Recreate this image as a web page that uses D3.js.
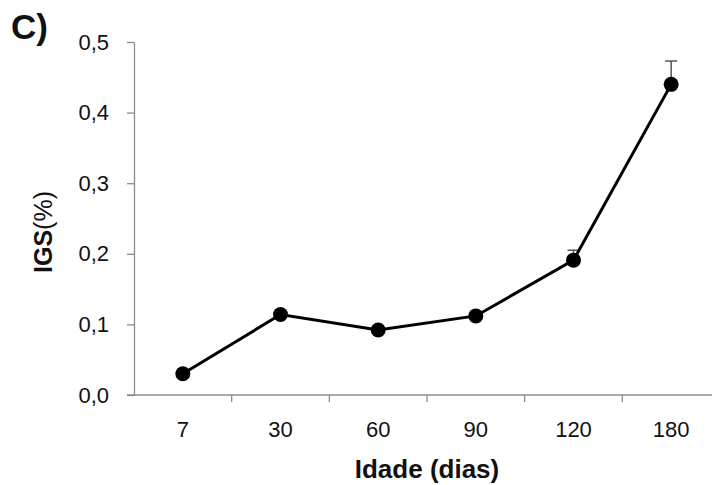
<!DOCTYPE html>
<html>
<head>
<meta charset="utf-8">
<script src="https://cdn.jsdelivr.net/npm/d3@7"></script>
<style>
  body { margin: 0; background: #fff; }
  svg { display: block; font-family: "Liberation Sans", Arial, sans-serif; }
  .tick text { font-size: 22px; fill: #111; }
</style>
</head>
<body>
<svg id="chart" width="712" height="485"></svg>
<script>
// data
const ages = ["7", "30", "60", "90", "120", "180"];
const igs = [0.030, 0.114, 0.092, 0.112, 0.191, 0.440];
const igsErr = [0, 0, 0, 0, 0.014, 0.033];
const yTicks = [0, 0.1, 0.2, 0.3, 0.4, 0.5];

// plot box: y axis at x=134, zero line at y=395, top (0,5) at y=42
const margins = { top: 42, left: 134 };
const innerWidth = 586;
const innerHeight = 353;

const chart = d3.select("#chart");

let xscale = d3.scaleBand(ages, [0, innerWidth]).padding(0);
let yscale = d3.scaleLinear([0, 0.5], [innerHeight, 0]);

const axisColor = "#8c8c8c";
const fmt = d => d3.format(".1f")(d).replace(".", ",");

let g = chart.append("g")
    .attr("transform", `translate(${margins.left},${margins.top})`);

// y axis
let yaxis = g.append("g")
    .attr("font-size", 22)
    .attr("font-family", "'Liberation Sans', Arial, sans-serif")
    .call(d3.axisLeft(yscale).tickValues(yTicks).tickSize(7).tickSizeOuter(0).tickFormat(fmt));
yaxis.select(".domain").attr("stroke", axisColor).attr("stroke-width", 1.3);
yaxis.selectAll(".tick line").attr("stroke", axisColor).attr("stroke-width", 1.3);
yaxis.selectAll(".tick text")
    .attr("x", -25)
    .attr("fill", "#111");

// x axis: labels at band centres, ticks at band edges
let xaxis = g.append("g")
    .attr("transform", `translate(0,${innerHeight})`)
    .attr("font-size", 22)
    .attr("font-family", "'Liberation Sans', Arial, sans-serif")
    .call(d3.axisBottom(xscale).tickSize(0).tickPadding(26));
xaxis.select(".domain").attr("stroke", axisColor).attr("stroke-width", 1.3)
    .attr("d", `M-7,0H${innerWidth}`);
xaxis.selectAll(".tick text")
    .attr("fill", "#111");
xaxis.selectAll(".edge")
    .data(ages.slice(1))
    .enter()
    .append("line")
    .attr("class", "edge")
    .attr("x1", d => xscale(d))
    .attr("x2", d => xscale(d))
    .attr("y1", 0)
    .attr("y2", 7)
    .attr("stroke", axisColor)
    .attr("stroke-width", 1.3);

const cx = d => xscale(d) + xscale.bandwidth() / 2;

// error bars
let errData = ages.map((a, i) => ({ a, v: igs[i], e: igsErr[i] })).filter(d => d.e > 0);
g.selectAll(".err")
    .data(errData)
    .enter()
    .append("path")
    .attr("class", "err")
    .attr("d", d => `M${cx(d.a)},${yscale(d.v)}V${yscale(d.v + d.e)}M${cx(d.a) - 6},${yscale(d.v + d.e)}H${cx(d.a) + 6}`)
    .attr("stroke", "#555")
    .attr("stroke-width", 1.5)
    .attr("fill", "none");

// line
let line = d3.line()
    .x((d, i) => cx(ages[i]))
    .y(d => yscale(d));
g.append("path")
    .datum(igs)
    .attr("d", line)
    .attr("fill", "none")
    .attr("stroke", "#000")
    .attr("stroke-width", 3);

// markers
g.selectAll(".dots")
    .data(igs)
    .enter()
    .append("circle")
    .attr("class", "dots")
    .attr("cx", (d, i) => cx(ages[i]))
    .attr("cy", d => yscale(d))
    .attr("r", 7.5)
    .attr("fill", "#000");

// titles
chart.append("text")
    .attr("x", 427)
    .attr("y", 478)
    .attr("text-anchor", "middle")
    .style("font-size", "26px")
    .style("font-weight", "bold")
    .attr("fill", "#111")
    .text("Idade (dias)");

chart.append("text")
    .attr("transform", "translate(52,232) rotate(-90)")
    .attr("text-anchor", "middle")
    .style("font-size", "25px")
    .attr("fill", "#111")
    .call(t => {
        t.append("tspan").style("font-weight", "bold").text("IGS");
        t.append("tspan").text("(%)");
    });

chart.append("text")
    .attr("x", 11)
    .attr("y", 39)
    .style("font-size", "35px")
    .style("font-weight", "bold")
    .attr("fill", "#111")
    .text("C)");
</script>
</body>
</html>
